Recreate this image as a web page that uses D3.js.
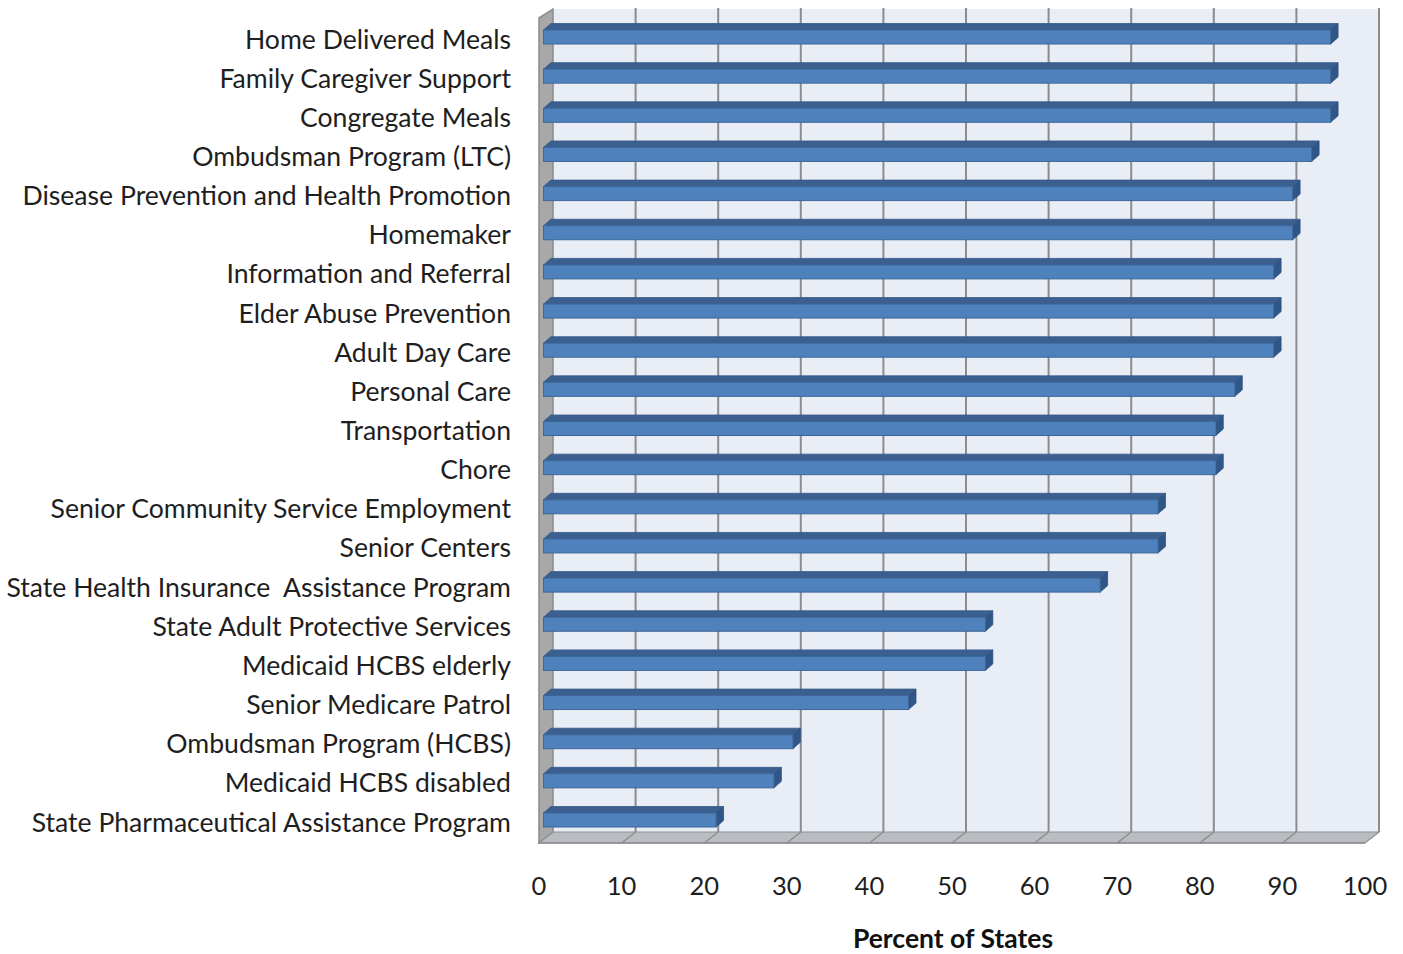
<!DOCTYPE html>
<html>
<head>
<meta charset="utf-8">
<script src="https://cdn.jsdelivr.net/npm/d3@7"></script>
<style>
  html, body { margin: 0; padding: 0; background: #ffffff; }
  svg { display: block; }
</style>
</head>
<body>
<svg id="chart" width="1403" height="954"></svg>
<script>
const categories = [
  "Home Delivered Meals",
  "Family Caregiver Support",
  "Congregate Meals",
  "Ombudsman Program (LTC)",
  "Disease Prevention and Health Promotion",
  "Homemaker",
  "Information and Referral",
  "Elder Abuse Prevention",
  "Adult Day Care",
  "Personal Care",
  "Transportation",
  "Chore",
  "Senior Community Service Employment",
  "Senior Centers",
  "State Health Insurance  Assistance Program",
  "State Adult Protective Services",
  "Medicaid HCBS elderly",
  "Senior Medicare Patrol",
  "Ombudsman Program (HCBS)",
  "Medicaid HCBS disabled",
  "State Pharmaceutical Assistance Program"
];
const values = [95.3, 95.3, 95.3, 93.0, 90.7, 90.7, 88.4, 88.4, 88.4, 83.7, 81.4, 81.4,
                74.4, 74.4, 67.4, 53.5, 53.5, 44.2, 30.2, 27.9, 20.9];
const tickValues = [0, 10, 20, 30, 40, 50, 60, 70, 80, 90, 100];
const axisTitle = "Percent of States";

const svg = d3.select("#chart");
const FONT = "Lato, 'Open Sans', sans-serif";

// 3D box geometry
const wallTop = 9, wallBottom = 832, depthX = 14, depthY = 11;
const xBack = d3.scaleLinear().domain([0, 100]).range([553, 1379]);
const xFront = v => xBack(v) - depthX;            // floor front edge
const xBar = d3.scaleLinear().domain([0, 100]).range([543.5, 1369.5]); // bar front face
const y = d3.scalePoint().domain(categories).range([37, 820]);

// Back wall
svg.append("rect")
  .attr("x", xBack(0)).attr("y", wallTop)
  .attr("width", xBack(100) - xBack(0)).attr("height", wallBottom - wallTop)
  .attr("fill", "#e9edf6");

// Gridlines on back wall
svg.append("g").selectAll("line").data(tickValues.slice(1)).join("line")
  .attr("x1", d => xBack(d)).attr("x2", d => xBack(d))
  .attr("y1", wallTop - 1).attr("y2", wallBottom)
  .attr("stroke", "#8c8c8c").attr("stroke-width", 2);

// Left wall
svg.append("polygon")
  .attr("points", [[xFront(0), wallTop + 9], [xBack(0), wallTop], [xBack(0), wallBottom], [xFront(0), wallBottom + depthY]].join(" "))
  .attr("fill", "#a8a8a8").attr("stroke", "#8a8a8a").attr("stroke-width", 1.5);

// Floor
svg.append("polygon")
  .attr("points", [[xBack(0), wallBottom], [xBack(100), wallBottom], [xFront(100), wallBottom + depthY], [xFront(0), wallBottom + depthY]].join(" "))
  .attr("fill", "#b9bcc1").attr("stroke", "#8e9094").attr("stroke-width", 1.2);
svg.append("g").selectAll("line").data(tickValues.slice(1, -1)).join("line")
  .attr("x1", d => xBack(d)).attr("y1", wallBottom)
  .attr("x2", d => xFront(d)).attr("y2", wallBottom + depthY)
  .attr("stroke", "#8c8c8c").attr("stroke-width", 1.5);
svg.append("line")
  .attr("x1", xFront(0)).attr("x2", xFront(100))
  .attr("y1", wallBottom + depthY).attr("y2", wallBottom + depthY)
  .attr("stroke", "#8a8c90").attr("stroke-width", 1.5);

// Bars (3D)
const bh = 7, bdx = 7.4, bdy = 6.5;
const data = categories.map((c, i) => ({ c, v: values[i] }));
const bars = svg.append("g").selectAll("g").data(data).join("g");
bars.append("polygon")  // top face
  .attr("points", d => {
    const x0 = xBar(0), x1 = xBar(d.v), y0 = y(d.c) - bh;
    return [[x0, y0], [x0 + bdx, y0 - bdy], [x1 + bdx, y0 - bdy], [x1, y0]].join(" ");
  })
  .attr("fill", "#3b6090").attr("stroke", "#34598a").attr("stroke-width", 0.8);
bars.append("polygon")  // end face
  .attr("points", d => {
    const x1 = xBar(d.v), y0 = y(d.c) - bh, y1 = y(d.c) + bh;
    return [[x1, y0], [x1 + bdx, y0 - bdy], [x1 + bdx, y1 - bdy], [x1, y1]].join(" ");
  })
  .attr("fill", "#2f5687").attr("stroke", "#2d5283").attr("stroke-width", 0.8);
bars.append("rect")  // front face
  .attr("x", xBar(0)).attr("y", d => y(d.c) - bh)
  .attr("width", d => xBar(d.v) - xBar(0)).attr("height", 2 * bh)
  .attr("fill", "#4f81bd").attr("stroke", "#3d6798").attr("stroke-width", 1);

// Category labels
svg.append("g").selectAll("text").data(categories).join("text")
  .attr("x", 511).attr("y", d => y(d) + 11.5)
  .attr("text-anchor", "end")
  .attr("font-family", FONT).attr("font-size", 26.6)
  .attr("fill", "#1e1e1e")
  .style("white-space", "pre")
  .text(d => d);

// Tick labels
svg.append("g").selectAll("text").data(tickValues).join("text")
  .attr("x", d => xFront(d)).attr("y", 895)
  .attr("text-anchor", "middle")
  .attr("font-family", FONT).attr("font-size", 25.5)
  .attr("fill", "#1e1e1e")
  .text(d => d);

// Axis title
svg.append("text")
  .attr("x", 953).attr("y", 948)
  .attr("text-anchor", "middle")
  .attr("font-family", FONT).attr("font-size", 26.5).attr("font-weight", "bold")
  .attr("fill", "#111")
  .text(axisTitle);
</script>
</body>
</html>
